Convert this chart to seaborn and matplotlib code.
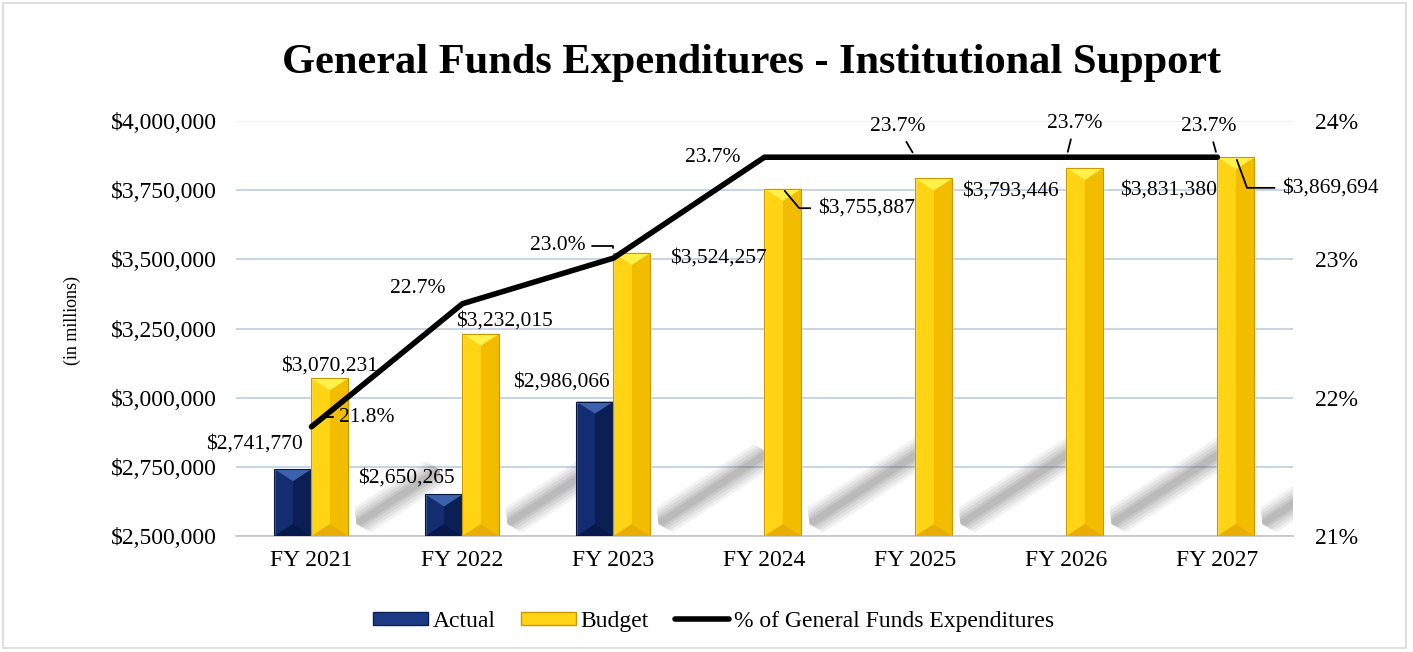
import numpy as np
import pandas as pd
import matplotlib
matplotlib.use("Agg")
import matplotlib.pyplot as plt
import seaborn as sns
from matplotlib.patches import Polygon, Rectangle
from matplotlib.lines import Line2D
from matplotlib.ticker import FuncFormatter

# data
years = ["FY 2021", "FY 2022", "FY 2023", "FY 2024", "FY 2025", "FY 2026", "FY 2027"]
actual = [2741770, 2650265, 2986066, np.nan, np.nan, np.nan, np.nan]
budget = [3070231, 3232015, 3524257, 3755887, 3793446, 3831380, 3869694]
pct = [21.79, 22.68, 23.01, 23.74, 23.74, 23.74, 23.74]

# label offsets in points (dx, dy) from the mark, plus leader line styles
actual_off = [(-28, 18), (-27, 12), (-24, 14)]
budget_off = [(0, 9), (17, 9), (62, -4), (60, -14), (55, -9), (60, -16), (68, -22)]
budget_lead = [None, None, None, -50, None, None, -70]
pct_off = [(40, 7), (-32, 11), (-40, 9), (-37, 0), (-13, 22), (6, 24), (-6, 22)]
pct_lead = ["hook21", None, "hook23", None, "straight", "straight", "straight"]

navy = {"left": "#132d70", "right": "#0b1f55", "top": "#3d62ad", "bot": "#07184a", "edge": "#06163d"}
gold = {"left": "#ffd414", "right": "#f2bd00", "top": "#fff04a", "bot": "#e8ad00", "edge": "#c99a00"}

sns.set_theme(style="white")
plt.rcParams["font.family"] = ["Liberation Serif", "DejaVu Serif"]
plt.rcParams["text.color"] = "black"

fig = plt.figure(figsize=(14.13, 6.52), dpi=100)
ax = fig.add_axes([0.167, 0.178, 0.748, 0.636])

df = pd.DataFrame({
    "year": years * 2,
    "kind": ["Actual"] * len(years) + ["Budget"] * len(years),
    "value": actual + budget,
}).dropna()

sns.barplot(data=df, x="year", y="value", hue="kind", order=years,
            hue_order=["Actual", "Budget"],
            palette=[navy["left"], gold["left"]], saturation=1,
            width=0.49, errorbar=None, legend=False, ax=ax, zorder=3)

ymin, ymax = 2500000, 4000000
ax.set_ylim(ymin, ymax)
ax.set_xlim(-0.5, len(years) - 0.5)
ax.set_yticks(np.arange(ymin, ymax + 1, 250000))
ax.yaxis.set_major_formatter(FuncFormatter(lambda v, p: "${:,.0f}".format(v)))
ax.set_xlabel("")
ax.set_ylabel("")
ax.tick_params(axis="y", labelsize=17, length=0, pad=14, colors="black")
ax.tick_params(axis="x", which="major", labelsize=17, length=0, pad=10, colors="black")
ax.set_xticks(np.arange(-0.5, len(years)), minor=True)
ax.tick_params(axis="x", which="minor", length=9, width=1.3, color="#c8c8c8")
for s in ["left", "right", "top"]:
    ax.spines[s].set_visible(False)
ax.spines["bottom"].set_color("#c8c8c8")
ax.spines["bottom"].set_linewidth(1.3)
ax.grid(axis="y", color="#c5d5e8", lw=1.4, zorder=0)
ax.set_axisbelow(True)
ax.get_ygridlines()[-1].set_color("#edf2f8")

fig.canvas.draw()
px_per_y = ax.transData.transform((0, ymax))[1] - ax.transData.transform((0, ymin))[1]
y_per_px = (ymax - ymin) / px_per_y
px_per_x = ax.transData.transform((1, 0))[0] - ax.transData.transform((0, 0))[0]


def px2data(x0, px, py):
    return (x0 + px / px_per_x, ymin + py * y_per_px)


# soft diagonal shadows cast by the gold bars
ang = np.deg2rad(33)
ux, uy = np.cos(ang), np.sin(ang)
nx, ny = -uy, ux
for bar in ax.containers[1]:
    x1 = bar.get_x() + bar.get_width()
    h_px = (bar.get_height() - ymin) / y_per_px
    L = 60 + 0.25 * h_px
    sx, sy = 8, 12
    for t, a in zip([30, 24, 18, 12, 7], [0.07, 0.08, 0.09, 0.1, 0.1]):
        hw = t / 2
        cut = t * 0.25
        pts = [px2data(x1, sx + cut * ux + hw * nx, sy + cut * uy + hw * ny),
               px2data(x1, sx + (L - cut) * ux + hw * nx, sy + (L - cut) * uy + hw * ny),
               px2data(x1, sx + L * ux, sy + L * uy),
               px2data(x1, sx + (L - cut) * ux - hw * nx, sy + (L - cut) * uy - hw * ny),
               px2data(x1, sx + cut * ux - hw * nx, sy + cut * uy - hw * ny),
               px2data(x1, sx, sy)]
        ax.add_patch(Polygon(pts, closed=True, color="#4a4a4a", alpha=a, lw=0, zorder=1))

# bevel faces on every bar
for cont, col in zip(ax.containers, [navy, gold]):
    for bar in cont:
        h = bar.get_height()
        if not np.isfinite(h):
            continue
        x0 = bar.get_x()
        w = bar.get_width()
        xc = x0 + w / 2
        x1 = x0 + w
        d = 12 * y_per_px
        ax.add_patch(Polygon([(xc, ymin + d), (x1, ymin), (x1, h), (xc, h - d)],
                             color=col["right"], lw=0, zorder=4))
        ax.add_patch(Polygon([(x0, h), (x1, h), (xc, h - d)], color=col["top"], lw=0, zorder=4))
        ax.add_patch(Polygon([(x0, ymin), (x1, ymin), (xc, ymin + d)], color=col["bot"], lw=0, zorder=4))
        ax.add_patch(Rectangle((x0, ymin), w, h - ymin, fill=False, ec=col["edge"], lw=0.8, zorder=5))

# bar value labels
xs = np.arange(len(years))
for i, v in enumerate(actual):
    if np.isfinite(v):
        ax.annotate("${:,.0f}".format(v), (xs[i] - 0.49 / 4, v), xytext=actual_off[i],
                    textcoords="offset points", ha="center", va="center", fontsize=15.5, zorder=6)
for i, v in enumerate(budget):
    ap = None
    if budget_lead[i] is not None:
        ap = dict(arrowstyle="-", color="black", lw=1.3, shrinkA=3, shrinkB=2,
                  connectionstyle="angle,angleA=0,angleB={},rad=0".format(budget_lead[i]))
    ax.annotate("${:,.0f}".format(v), (xs[i] + 0.49 / 4, v), xytext=budget_off[i],
                textcoords="offset points", ha="center", va="center",
                fontsize=15.5, zorder=6, arrowprops=ap)

# percentage line on the right axis
ax2 = ax.twinx()
sns.lineplot(x=xs, y=pct, ax=ax2, color="black", lw=4, zorder=5)
ax2.lines[0].set_solid_capstyle("round")
ax2.set_ylim(21, 24)
ax2.set_yticks([21, 22, 23, 24])
ax2.yaxis.set_major_formatter(FuncFormatter(lambda v, p: "{:.0f}%".format(v)))
ax2.tick_params(axis="y", labelsize=17, length=0, pad=16, colors="black")
ax2.grid(False)
for s in ax2.spines.values():
    s.set_visible(False)
ax.set_xlim(-0.5, len(years) - 0.5)

lead_styles = {
    "hook21": dict(connectionstyle="angle,angleA=0,angleB=35,rad=0", shrinkB=9),
    "hook23": dict(connectionstyle="angle,angleA=0,angleB=90,rad=0", shrinkB=7),
    "straight": dict(connectionstyle="arc3", shrinkB=4),
}
for i, v in enumerate(pct):
    ap = None
    if pct_lead[i] is not None:
        ap = dict(arrowstyle="-", color="black", lw=1.3, shrinkA=2, **lead_styles[pct_lead[i]])
    ax2.annotate("{:.1f}%".format(v), (xs[i], v), xytext=pct_off[i], textcoords="offset points",
                 ha="center", va="center", fontsize=15.5, arrowprops=ap)

fig.text(0.532, 0.903, "General Funds Expenditures - Institutional Support",
         ha="center", va="center", fontsize=30.5, fontweight="bold", color="black")
fig.text(0.051, 0.508, "(in millions)", rotation=90, ha="center", va="center", fontsize=13)

handles = [Rectangle((0, 0), 1, 1, fc="#1d3b85", ec="#0b1f55"),
           Rectangle((0, 0), 1, 1, fc=gold["left"], ec=gold["edge"]),
           Line2D([], [], color="black", lw=4, solid_capstyle="round")]
fig.legend(handles, ["Actual", "Budget", "% of General Funds Expenditures"],
           loc="center", bbox_to_anchor=(0.505, 0.047), ncol=3, frameon=False,
           fontsize=17, handlelength=2.3, handleheight=0.5, handletextpad=0.2, columnspacing=1.1)

fig.patches.append(Rectangle((0.002, 0.006), 0.993, 0.99, transform=fig.transFigure,
                             fill=False, ec="#d9d9d9", lw=1.2))

fig.savefig("out.png", dpi=100, facecolor="white")
